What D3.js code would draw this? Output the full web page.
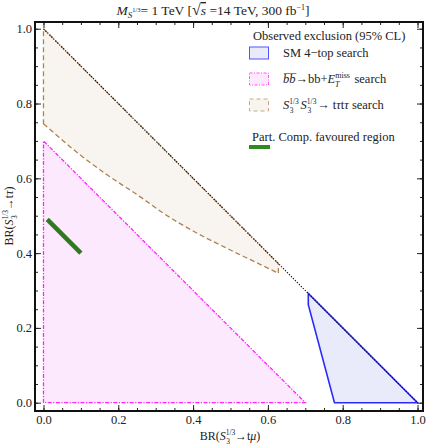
<!DOCTYPE html>
<html><head><meta charset="utf-8">
<script src="https://d3js.org/d3.v7.min.js"></script>
<style>
body{margin:0;background:#fff;}
text{font-family:"Liberation Serif","DejaVu Serif",serif;fill:#222;}
</style></head>
<body>
<svg id="c" width="426" height="445"></svg>
<script>
// ---- data ----
const xTicks = [0.0, 0.2, 0.4, 0.6, 0.8, 1.0];
const yTicks = [0.0, 0.2, 0.4, 0.6, 0.8, 1.0];
const diagonal = [[0, 1], [1, 0]];
const brownUpper = [[0, 1], [0.628, 0.372]];
const brownLower = [[0, 0.746], [0.08, 0.677], [0.169, 0.61], [0.258, 0.551], [0.32, 0.507], [0.40, 0.459], [0.49, 0.413], [0.579, 0.370], [0.628, 0.346]];
const magentaRegion = [[0, 0], [0, 0.70], [0.70, 0]];
const blueRegion = [[0.708, 0.292], [0.708, 0.262], [0.778, 0], [1, 0]];
const greenSegment = [[0.01, 0.49], [0.10, 0.40]];

const svg = d3.select("#c");
const L = 35, R = 423, T = 22, B = 411;
const x = d3.scaleLinear().domain([-0.0227, 1.0147]).range([L, R]);
const y = d3.scaleLinear().domain([-0.0222, 1.018]).range([B, T]);
const line = d3.line().x(d => x(d[0])).y(d => y(d[1]));
const smooth = d3.line().x(d => x(d[0])).y(d => y(d[1])).curve(d3.curveMonotoneX);

// regions
svg.append("path").attr("d", line(magentaRegion) + "Z")
  .attr("fill", "#fde9fd").attr("stroke", "#ff22ff").attr("stroke-width", 1.3)
  .attr("stroke-dasharray", "4,1.5,1.2,1.5");
// brown: upper diagonal edge, then lower curve back to x=0
const lowerPath = smooth(brownLower.slice().reverse().map(d => d)); // drawn right-to-left
const lowerAsc = smooth(brownLower);
svg.append("path")
  .attr("d", line(brownUpper) + "L" + x(brownLower[brownLower.length-1][0]) + "," + y(brownLower[brownLower.length-1][1]) + "Z")
  .attr("fill", "none");
// area fill using explicit polygon of smooth lower curve
const brownG = svg.append("g");
brownG.append("path")
  .attr("d", lowerAsc + "L" + x(brownUpper[1][0]) + "," + y(brownUpper[1][1]) + "L" + x(brownUpper[0][0]) + "," + y(brownUpper[0][1]) + "Z")
  .attr("fill", "#f8f5f0").attr("stroke", "#b08050").attr("stroke-width", 1.3)
  .attr("stroke-dasharray", "5,3");
svg.append("path").attr("d", line(blueRegion) + "Z")
  .attr("fill", "#e9eafa").attr("stroke", "#2a2aff").attr("stroke-width", 1.6);
svg.append("path").attr("d", line(diagonal))
  .attr("fill", "none").attr("stroke", "#111").attr("stroke-width", 1.2)
  .attr("stroke-dasharray", "1.2,1.6");
svg.append("path").attr("d", line(greenSegment))
  .attr("fill", "none").attr("stroke", "#2f7a1f").attr("stroke-width", 4.5);

// frame & ticks
const minor = d3.range(0, 1.0001, 0.05);
const gb = svg.append("g").attr("transform", `translate(0,${B})`)
  .call(d3.axisBottom(x).tickValues(xTicks).tickSize(-6).tickPadding(4).tickFormat(d3.format(".1f")));
const gbm = svg.append("g").attr("transform", `translate(0,${B})`)
  .call(d3.axisBottom(x).tickValues(minor).tickSize(-3).tickFormat(""));
const gt = svg.append("g").attr("transform", `translate(0,${T})`)
  .call(d3.axisTop(x).tickValues(xTicks).tickSize(-6).tickFormat(""));
const gtm = svg.append("g").attr("transform", `translate(0,${T})`)
  .call(d3.axisTop(x).tickValues(minor).tickSize(-3).tickFormat(""));
const gl = svg.append("g").attr("transform", `translate(${L},0)`)
  .call(d3.axisLeft(y).tickValues(yTicks).tickSize(-6).tickPadding(3).tickFormat(d3.format(".1f")));
const glm = svg.append("g").attr("transform", `translate(${L},0)`)
  .call(d3.axisLeft(y).tickValues(minor).tickSize(-3).tickFormat(""));
const gr = svg.append("g").attr("transform", `translate(${R},0)`)
  .call(d3.axisRight(y).tickValues(yTicks).tickSize(-6).tickFormat(""));
const grm = svg.append("g").attr("transform", `translate(${R},0)`)
  .call(d3.axisRight(y).tickValues(minor).tickSize(-3).tickFormat(""));
[gb, gbm, gt, gtm, gl, glm, gr, grm].forEach(g => {
  g.select(".domain").remove();
  g.selectAll("line").attr("stroke", "#222").attr("stroke-width", 1);
  g.selectAll("text").attr("font-family", "Liberation Serif, serif").attr("font-size", 12.5).attr("fill", "#333");
});
svg.append("rect").attr("x", L).attr("y", T).attr("width", R - L).attr("height", B - T)
  .attr("fill", "none").attr("stroke", "#111").attr("stroke-width", 2);

// title
const title = svg.append("text").attr("x", 213).attr("y", 15).attr("text-anchor", "middle").attr("font-size", 13.5);
title.append("tspan").attr("font-style", "italic").text("M");
title.append("tspan").attr("font-style", "italic").attr("font-size", 9).attr("dy", 3).text("S");
title.append("tspan").attr("font-size", 6.5).attr("dy", -6).text("1/3");
title.append("tspan").attr("dy", 3).text("= 1 TeV [");
title.append("tspan").attr("font-size", 16).text("√");
title.append("tspan").attr("font-style", "italic").attr("text-decoration", "overline").text("s");
title.append("tspan").text(" =14 TeV, 300 fb");
title.append("tspan").attr("font-size", 8).attr("dy", -5).text("−1");
title.append("tspan").attr("dy", 5).text("]");

function s3(sel) {
  sel.append("tspan").attr("font-style", "italic").text("S");
  sel.append("tspan").attr("font-size", 7.5).attr("dy", -5).text("1/3");
  sel.append("tspan").attr("font-size", 7.5).attr("dx", -9).attr("dy", 9).text("3");
}
function brLabel(sel, last) {
  sel.append("tspan").text("BR(");
  s3(sel);
  sel.append("tspan").attr("dx", 5).attr("dy", -4).text("→t");
  sel.append("tspan").attr("font-style", "italic").text(last);
  sel.append("tspan").text(")");
}
brLabel(svg.append("text").attr("x", 230).attr("y", 440).attr("text-anchor", "middle").attr("font-size", 12), "μ");
brLabel(svg.append("text").attr("transform", "translate(13,216) rotate(-90)").attr("text-anchor", "middle").attr("font-size", 12), "τ");

// legend
const lg = svg.append("g");
lg.append("text").attr("x", 253).attr("y", 40).attr("font-size", 12.5).text("Observed exclusion (95% CL)");
const sw = [
  {y: 53, fill: "#e9eafa", stroke: "#5555ff", dash: null},
  {y: 79, fill: "#fde9fd", stroke: "#ff55ff", dash: "3,1.5,1,1.5"},
  {y: 105, fill: "#f8f5f0", stroke: "#c8a888", dash: "4,3"}
];
sw.forEach(s => {
  lg.append("rect").attr("x", 249.5).attr("y", s.y - 6).attr("width", 19).attr("height", 12)
    .attr("fill", s.fill).attr("stroke", s.stroke).attr("stroke-width", 1)
    .attr("stroke-dasharray", s.dash);
});
lg.append("text").attr("x", 283).attr("y", 57).attr("font-size", 12.5).text("SM 4−top search");
const t2 = lg.append("text").attr("x", 283).attr("y", 83).attr("font-size", 12.5);
t2.append("tspan").attr("font-style", "italic").text("b\u0305b\u0305");
t2.append("tspan").text("→bb+");
t2.append("tspan").attr("font-style", "italic").text("E");
t2.append("tspan").attr("font-size", 8).attr("dy", -5).text("miss");
t2.append("tspan").attr("font-size", 8).attr("font-style", "italic").attr("dx", -15).attr("dy", 9).text("T");
t2.append("tspan").attr("dx", 12).attr("dy", -4).text(" search");
const t3 = lg.append("text").attr("x", 283).attr("y", 109).attr("font-size", 12.5);
s3(t3);
t3.append("tspan").attr("font-style", "italic").attr("dx", 7).attr("dy", -4).text("S");
t3.append("tspan").attr("font-size", 7.5).attr("dy", -5).text("1/3");
t3.append("tspan").attr("font-size", 7.5).attr("dx", -9).attr("dy", 9).text("3");
t3.append("tspan").attr("dx", 6).attr("dy", -4).text("→ t");
t3.append("tspan").attr("font-style", "italic").text("τ");
t3.append("tspan").text("t");
t3.append("tspan").attr("font-style", "italic").text("τ");
t3.append("tspan").text(" search");
lg.append("text").attr("x", 252).attr("y", 141).attr("font-size", 12.5).text("Part. Comp. favoured region");
lg.append("line").attr("x1", 249).attr("x2", 270).attr("y1", 147).attr("y2", 147)
  .attr("stroke", "#2f8a1f").attr("stroke-width", 4);
</script>
</body></html>
